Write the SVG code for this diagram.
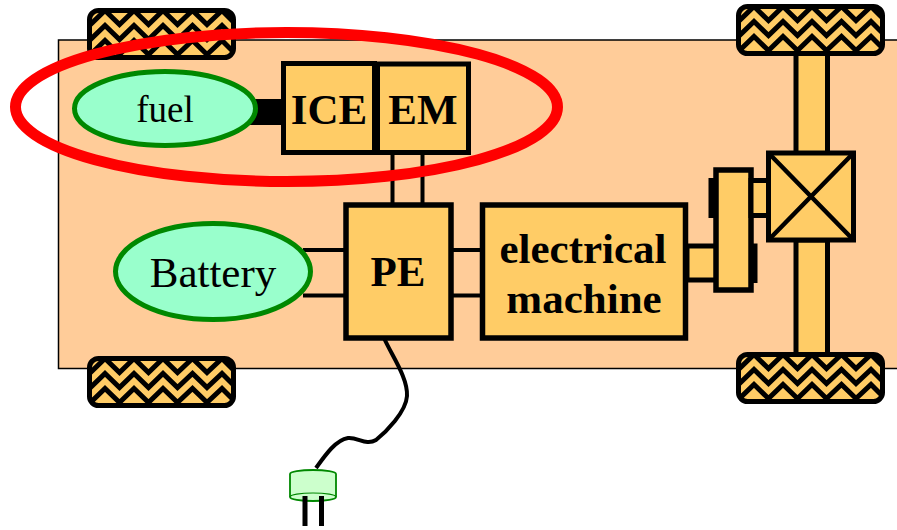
<svg xmlns="http://www.w3.org/2000/svg" width="897" height="530" viewBox="0 0 897 530">
<style>
.b{fill:#fc6;stroke:#000;stroke-width:5}
.d{fill:#fc6;stroke:#000;stroke-width:5.500}
.c{fill:#9fc;stroke:#080;stroke-width:5}
.w{fill:none;stroke:#000;stroke-width:4}
.t{font-family:"Liberation Serif","Times New Roman",serif;text-anchor:middle;fill:#000}
.h{font-size:43px;font-weight:bold}
.z{fill:none;stroke:#000;stroke-width:5}
</style>
<defs>
<clipPath id="wc"><rect x="3" y="3" width="143" height="46" rx="8"/></clipPath>
<path id="zz" d="M-11 2.500L3.500 16.500L18 2.500L32.500 16.500L47 2.500L61.500 16.500L76 2.500L90.500 16.500L105.500 2.500L120 16.500L135 2.500L149 16.500"/>
<g id="wheel">
<rect x="2.500" y="2.500" width="144" height="47" rx="9" fill="#fc6"/>
<g clip-path="url(#wc)">
<use href="#zz" class="z"/>
<use href="#zz" class="z" y="15"/>
<use href="#zz" class="z" y="30"/>
</g>
<rect x="2.500" y="2.500" width="144" height="47" rx="9" fill="none" stroke="#000" stroke-width="5"/>
</g>
</defs>
<rect id="chassis" x="58.500" y="40" width="850" height="328.500" fill="#fc9" stroke="#000" stroke-width="1.500"/>
<g id="axle">
<rect class="b" x="796" y="50" width="31.500" height="105"/>
<rect class="b" x="796" y="240" width="31.500" height="116"/>
</g>
<g id="wheel-top-left"><use href="#wheel" x="87" y="8"/></g>
<g id="wheel-bottom-left"><use href="#wheel" x="87" y="356"/></g>
<g id="wheel-top-right"><use href="#wheel" x="736" y="4"/></g>
<g id="wheel-bottom-right"><use href="#wheel" x="736" y="352"/></g>
<g id="connectors">
<rect x="250" y="99" width="35" height="26" fill="#000"/>
<path class="w" d="M392.500 152V205M422.500 152V205M303 250H346M303 295.500H346M451 250H482M451 295.500H482"/>
<path d="M384 338C392 356 408 378 407 396C406 412 386 432 376 440C366 446 358 437 348 438C336 440 326 454 316 468" fill="none" stroke="#000" stroke-width="4"/>
</g>
<g id="fuel"><ellipse class="c" cx="165" cy="108.500" rx="90.500" ry="37"/><text class="t" x="165" y="122" font-size="37">fuel</text></g>
<g id="ice"><rect class="b" x="283.500" y="63.500" width="91" height="89"/><text class="t h" x="329" y="124">ICE</text></g>
<g id="em"><rect class="b" x="377.500" y="64" width="91" height="88.500"/><text class="t h" x="423" y="124">EM</text></g>
<g id="battery"><ellipse class="c" cx="213" cy="271.500" rx="97.500" ry="48"/><text class="t" x="213" y="287" font-size="43">Battery</text></g>
<g id="pe"><rect class="d" x="346" y="205" width="105" height="133"/><text class="t h" x="398" y="286">PE</text></g>
<g id="machine"><rect class="d" x="482.500" y="205" width="203" height="133"/><text class="t h" x="583" y="263">electrical</text><text class="t h" x="584" y="313">machine</text></g>
<g id="gear">
<rect class="b" x="687" y="246" width="30" height="34"/>
<rect x="708.500" y="178" width="8" height="40" fill="#000"/>
<rect x="749" y="243.500" width="8.500" height="39.500" fill="#000"/>
<rect class="d" x="716" y="170" width="35" height="120"/>
<rect class="b" x="751" y="180.500" width="18" height="35"/>
</g>
<g id="differential"><rect class="b" x="768.500" y="153" width="85" height="87"/><path d="M768.500 153L853.500 240M853.500 153L768.500 240" stroke="#000" stroke-width="4.500" fill="none"/></g>
<g id="plug">
<path d="M290 474A23 4 0 0 1 336 474V497A23 4 0 0 1 290 497Z" fill="#cfc" stroke="#080" stroke-width="1.800"/>
<path d="M290 497A23 4 0 0 1 336 497" fill="none" stroke="#080" stroke-width="1.200"/>
<path d="M305 496V526M321.500 496V526" fill="none" stroke="#000" stroke-width="5"/>
</g>
<ellipse id="red-ring" cx="286.500" cy="107" rx="271" ry="74.500" fill="none" stroke="#f00" stroke-width="11"/>
</svg>
